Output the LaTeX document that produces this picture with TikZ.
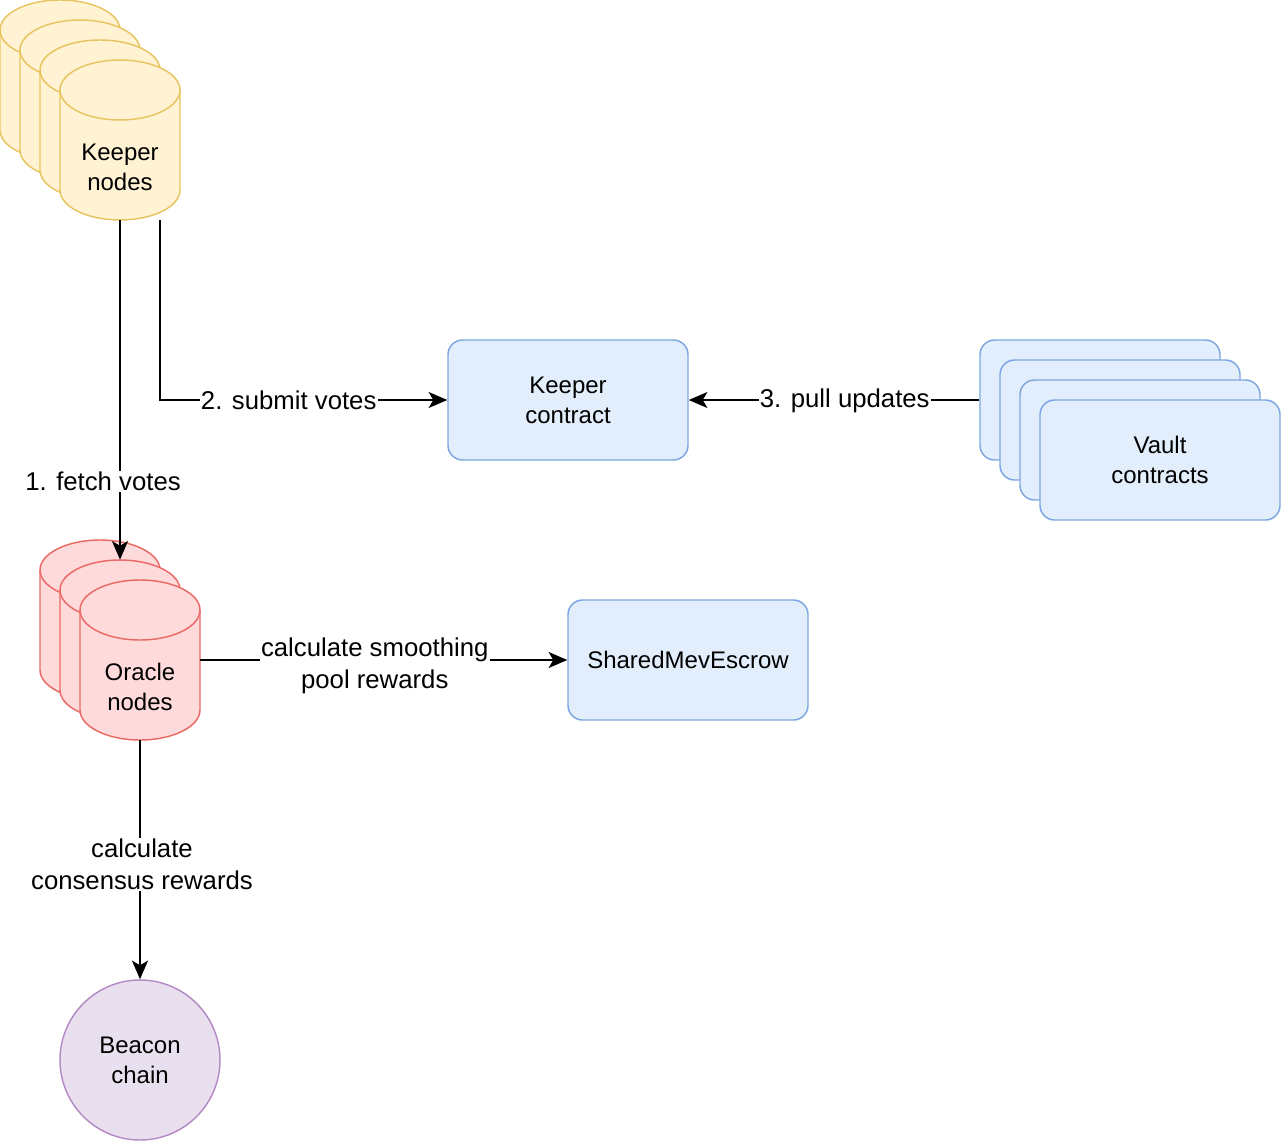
\documentclass[tikz,border=0pt]{standalone}
\usepackage{fontspec}
\setmainfont{Liberation Sans}
\usetikzlibrary{arrows.meta}
\definecolor{ylwfill}{RGB}{255,243,212}
\definecolor{ylwdraw}{RGB}{232,196,96}
\definecolor{redfill}{RGB}{255,218,218}
\definecolor{reddraw}{RGB}{234,107,102}
\definecolor{blufill}{RGB}{226,238,252}
\definecolor{bludraw}{RGB}{126,166,224}
\definecolor{purfill}{RGB}{232,224,239}
\definecolor{purdraw}{RGB}{181,140,196}
\newcommand\mycyl[4]{%
  \filldraw[fill=#3,draw=#4,line width=1.1pt] (#1,#2+30) -- (#1,#2+130)
    arc[start angle=180,end angle=0,x radius=60,y radius=30] -- (#1+120,#2+30)
    arc[start angle=0,end angle=-180,x radius=60,y radius=30] -- cycle;
  \draw[draw=#4,line width=1.1pt] (#1,#2+30) arc[start angle=180,end angle=0,x radius=60,y radius=30];}
\tikzset{
  nodetxt/.style={align=center,font=\fontsize{18pt}{22.5pt}\selectfont,inner sep=0pt},
  edgetxt/.style={align=center,font=\fontsize{19.3pt}{24pt}\selectfont,fill=white,inner sep=1pt},
  contract/.style={draw=bludraw,fill=blufill,line width=1.1pt,rounded corners=11pt,
    minimum width=180pt,minimum height=90pt,align=center,font=\fontsize{18pt}{22.5pt}\selectfont},
  cylbox/.style={minimum width=90pt,minimum height=120pt,inner sep=0pt},
  conn/.style={line width=1.3pt,-{Stealth[length=14pt,width=12pt,inset=3.5pt]}},
  plain/.style={line width=1.3pt}
}
\begin{document}
\begin{tikzpicture}[x=0.75pt,y=-0.75pt]
\useasboundingbox (0,0) rectangle (1282,1142);
% Keeper nodes cylinders
\mycyl{0}{0}{ylwfill}{ylwdraw}
\mycyl{20}{20}{ylwfill}{ylwdraw}
\mycyl{40}{40}{ylwfill}{ylwdraw}
\mycyl{60}{60}{ylwfill}{ylwdraw}
\node[cylbox] (keeper) at (120,140) {};
\node[nodetxt] (keepertxt) at (120,167) {Keeper\\nodes};
% Oracle nodes cylinders
\mycyl{40}{540}{redfill}{reddraw}
\mycyl{60}{560}{redfill}{reddraw}
\mycyl{80}{580}{redfill}{reddraw}
\node[cylbox] (oraclemid) at (120,640) {};
\node[cylbox] (oracle) at (140,660) {};
\node[nodetxt] (oracletxt) at (140,687) {Oracle\\nodes};
% Keeper contract
\node[contract] (kc) at (568,400) {Keeper\\contract};
% Vault contracts
\node[contract] (vault0) at (1100,400) {};
\node[contract] (vault1) at (1120,420) {};
\node[contract] (vault2) at (1140,440) {};
\node[contract] (vault3) at (1160,460) {Vault\\contracts};
% SharedMevEscrow
\node[contract] (mev) at (688,660) {SharedMevEscrow};
% Beacon chain
\node[circle,draw=purdraw,fill=purfill,line width=1.1pt,minimum size=120pt,align=center,
  font=\fontsize{18pt}{22.5pt}\selectfont] (beacon) at (140,1060) {Beacon\\chain};
% connectors
\coordinate (k1) at ([xshift=0pt]keeper.south);
\coordinate (k2) at ([xshift=30pt]keeper.south);
\draw[conn] (k1) -- (oraclemid.north) node[edgetxt,pos=0.77,xshift=-12.75pt] (l1) {1. fetch votes};
\draw[conn] (k2) |- (kc.west) node[edgetxt,pos=0.724] (l2) {2. submit votes};
\draw[conn] (vault0.west) -- (kc.east) node[edgetxt,pos=0.463,yshift=-1pt] (l3) {3. pull updates};
\draw[conn] (oracle.east) -- (mev.west) node[edgetxt,pos=0.47,xshift=1.5pt,yshift=-4.5pt] (l4) {calculate smoothing\\pool rewards};
\draw[conn] (oracle.south) -- (beacon.north) node[edgetxt,pos=0.52,xshift=1.5pt] (l5) {calculate\\consensus rewards};
\end{tikzpicture}
\end{document}
